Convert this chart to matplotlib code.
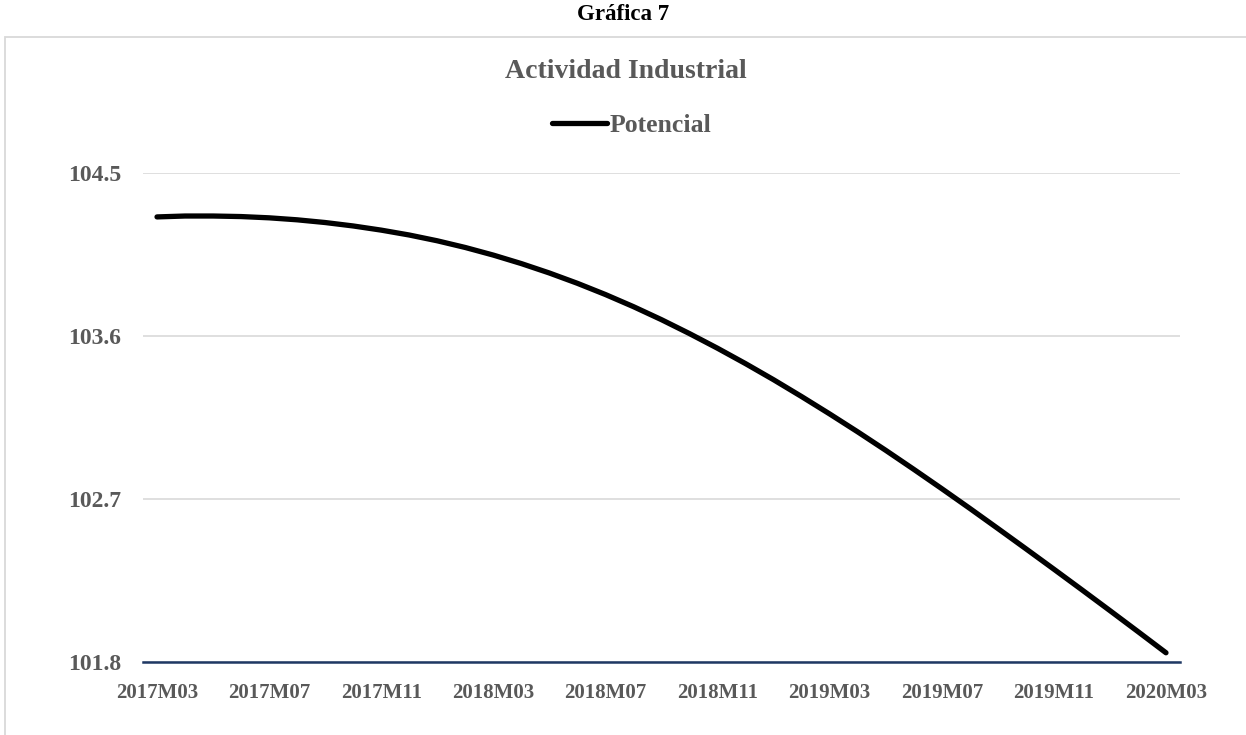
import matplotlib
matplotlib.use("Agg")
import matplotlib.pyplot as plt
from matplotlib.patches import Rectangle

# Monthly categories 2017M03 .. 2020M03
months = [
    "2017M03", "2017M04", "2017M05", "2017M06", "2017M07", "2017M08", "2017M09",
    "2017M10", "2017M11", "2017M12", "2018M01", "2018M02", "2018M03", "2018M04",
    "2018M05", "2018M06", "2018M07", "2018M08", "2018M09", "2018M10", "2018M11",
    "2018M12", "2019M01", "2019M02", "2019M03", "2019M04", "2019M05", "2019M06",
    "2019M07", "2019M08", "2019M09", "2019M10", "2019M11", "2019M12", "2020M01",
    "2020M02", "2020M03",
]

# Potencial
potencial = [
    104.260, 104.265, 104.265, 104.262, 104.255, 104.244, 104.229, 104.210,
    104.187, 104.160, 104.128, 104.091, 104.049, 104.002, 103.950, 103.893,
    103.831, 103.764, 103.692, 103.615, 103.534, 103.449, 103.360, 103.267,
    103.171, 103.072, 102.970, 102.865, 102.758, 102.649, 102.538, 102.426,
    102.313, 102.199, 102.084, 101.968, 101.851,
]

y_ticks = [101.8, 102.7, 103.6, 104.5]
y_labels = ["101.8", "102.7", "103.6", "104.5"]
label_every = 4

plt.rcParams["font.family"] = ["Liberation Serif", "DejaVu Serif"]
plt.rcParams["font.weight"] = "bold"

gray = "#595959"
fig = plt.figure(figsize=(12.46, 7.35), dpi=100)

# outer chart frame
fig.patches.append(Rectangle((5 / 1246, -0.1), 1.2, 1 - 37 / 735 + 0.1,
                             transform=fig.transFigure, fill=False,
                             edgecolor="#D9D9D9", linewidth=1.3))

ax = fig.add_axes([143 / 1246, 1 - 662 / 735, (1180 - 143) / 1246, (662 - 173.5) / 735])

x = list(range(len(months)))
ax.plot(x, potencial, color="black", linewidth=3.8, solid_capstyle="round",
        solid_joinstyle="round", label="Potencial", zorder=3, clip_on=False)

ax.set_xlim(-0.5, len(months) - 0.5)
ax.set_ylim(101.8, 104.5)
ax.set_yticks(y_ticks)
ax.set_yticklabels(y_labels, fontsize=17, color=gray, fontweight="bold")
ax.set_xticks(x[::label_every])
ax.set_xticklabels(months[::label_every], fontsize=15, color=gray, fontweight="bold")
ax.tick_params(axis="both", length=0)
ax.tick_params(axis="y", pad=15.5)
ax.tick_params(axis="x", pad=15)

ax.grid(axis="y", color="#D9D9D9", linewidth=1.2)
ax.set_axisbelow(True)
for s in ["top", "right", "left"]:
    ax.spines[s].set_visible(False)
ax.spines["bottom"].set_color("#1F3864")
ax.spines["bottom"].set_linewidth(1.8)
ax.spines["bottom"].set_zorder(4)

fig.text(0.5, 1 - 15 / 735, "Gráfica 7", ha="center", va="center",
         fontsize=16.5, fontweight="bold", color="black")
fig.text(626 / 1246, 1 - 72 / 735, "Actividad Industrial", ha="center", va="center",
         fontsize=20, fontweight="bold", color=gray)

leg = ax.legend(loc="center", bbox_to_anchor=(632 / 1246, 1 - 125 / 735),
                bbox_transform=fig.transFigure, frameon=False,
                prop={"size": 18.5, "weight": "bold"}, handlelength=2.15,
                handletextpad=0.1, labelcolor=gray)

fig.savefig("out.png", dpi=100)
